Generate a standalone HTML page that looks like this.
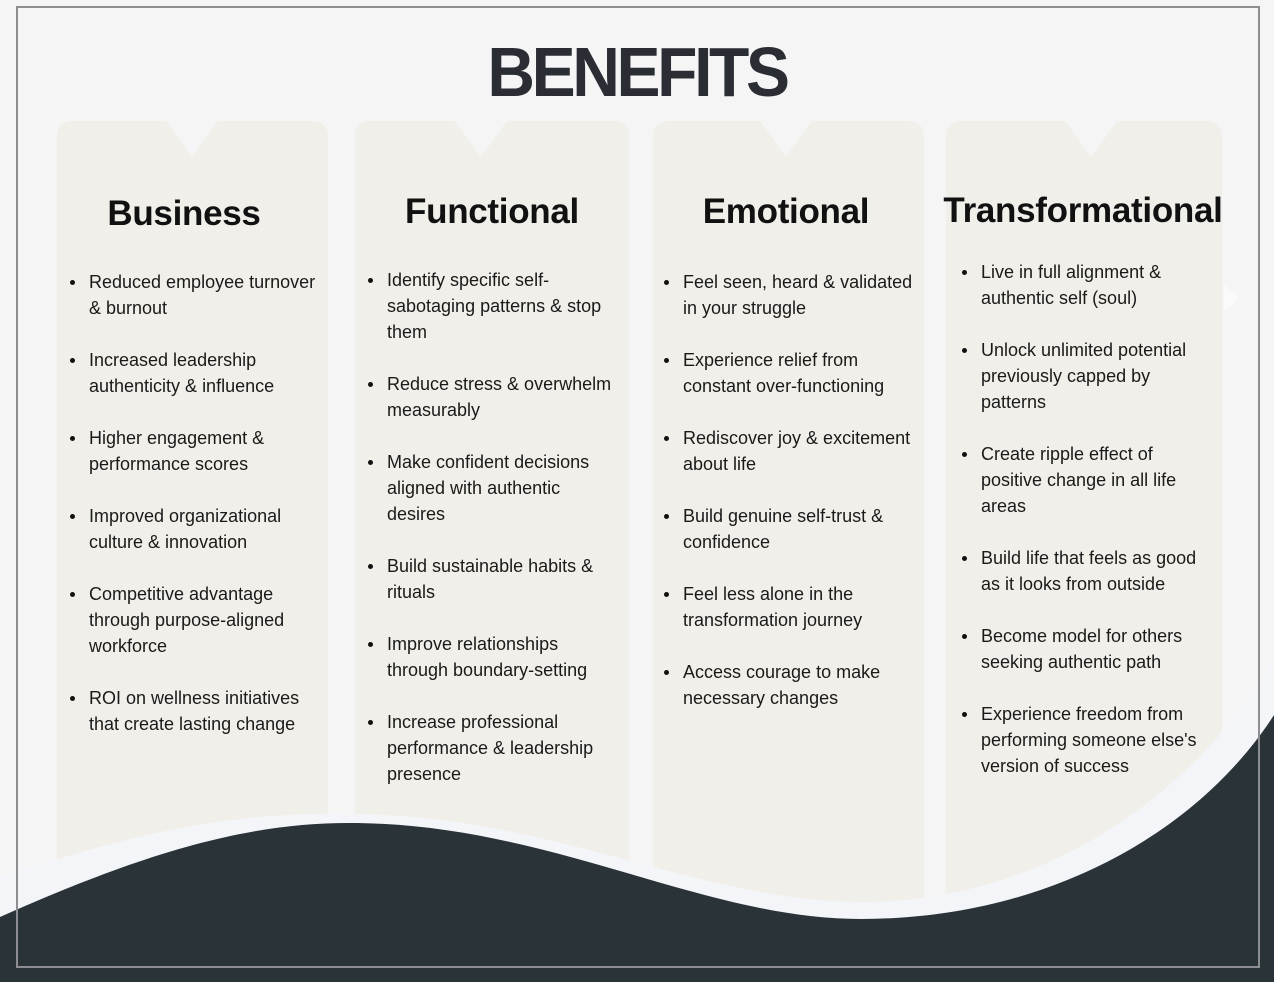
<!DOCTYPE html>
<html><head><meta charset="utf-8"><style>
*{margin:0;padding:0;box-sizing:border-box}
body{width:1274px;height:982px;overflow:hidden;background:#f5f5f6;font-family:"Liberation Sans",sans-serif;position:relative}
.card{position:absolute;top:121px;height:860px;background:#f1efe9;border-radius:14px}
.notch{position:absolute;top:121px;width:0;height:0;border-left:26px solid transparent;border-right:26px solid transparent;border-top:36px solid #f5f5f6}
h2{position:absolute;font-size:35px;font-weight:bold;color:#111;text-align:center;line-height:40px;letter-spacing:-0.3px}
h1{position:absolute;top:36px;left:0;width:1274px;text-align:center;font-size:66px;font-weight:bold;color:#2a2d34;letter-spacing:-3.4px;line-height:72px;transform:scaleY(1.05)}
ul{position:absolute;list-style:none;font-size:18px;line-height:26px;color:#1a1a1a}
li{position:relative;margin-bottom:26px}
li:before{content:"";position:absolute;left:-19px;top:11px;width:5px;height:5px;border-radius:50%;background:#111}
svg{position:absolute;left:0;top:0}
</style></head><body>
<div class="card" style="left:57px;width:271px"></div>
<div class="card" style="left:355px;width:274px"></div>
<div class="card" style="left:653px;width:271px"></div>
<div class="card" style="left:946px;width:276px"></div>
<div class="notch" style="left:166px"></div>
<div class="notch" style="left:455px"></div>
<div class="notch" style="left:760px"></div>
<div class="notch" style="left:1065px"></div>
<h1>BENEFITS</h1>
<h2 style="left:57px;width:254px;top:194px">Business</h2>
<h2 style="left:355px;width:274px;top:192px">Functional</h2>
<h2 style="left:653px;width:266px;top:192px">Emotional</h2>
<h2 style="left:940px;width:286px;top:191px">Transformational</h2>
<svg width="1274" height="982">
<polygon points="1224,284 1240,298 1224,312" fill="#fafafa"/>
<path d="M0,878 C150,826 250,812 349,814 C550,814 700,902 861,902 C1040,902 1190,800 1274,660 L1274,982 L0,982Z" fill="#f4f5f8"/>
<path d="M0,917 C150,850 250,823 349,823 C550,823 700,919 861,919 C1050,919 1200,830 1274,715 L1274,982 L0,982Z" fill="#293338"/>
<rect x="17" y="7" width="1242" height="960" fill="none" stroke="#8d8d92" stroke-width="2"/>
</svg>
<ul style="left:89px;top:269px;width:238px">
<li>Reduced employee turnover &amp; burnout</li>
<li>Increased leadership authenticity &amp; influence</li>
<li>Higher engagement &amp; performance scores</li>
<li>Improved organizational culture &amp; innovation</li>
<li>Competitive advantage through purpose-aligned workforce</li>
<li>ROI on wellness initiatives that create lasting change</li>
</ul>
<ul style="left:387px;top:267px;width:232px">
<li>Identify specific self-sabotaging patterns &amp; stop them</li>
<li>Reduce stress &amp; overwhelm measurably</li>
<li>Make confident decisions aligned with authentic desires</li>
<li>Build sustainable habits &amp; rituals</li>
<li>Improve relationships through boundary-setting</li>
<li>Increase professional performance &amp; leadership presence</li>
</ul>
<ul style="left:683px;top:269px;width:245px">
<li>Feel seen, heard &amp; validated in your struggle</li>
<li>Experience relief from constant over-functioning</li>
<li>Rediscover joy &amp; excitement about life</li>
<li>Build genuine self-trust &amp; confidence</li>
<li>Feel less alone in the transformation journey</li>
<li>Access courage to make necessary changes</li>
</ul>
<ul style="left:981px;top:259px;width:228px">
<li>Live in full alignment &amp; authentic self (soul)</li>
<li>Unlock unlimited potential previously capped by patterns</li>
<li>Create ripple effect of positive change in all life areas</li>
<li>Build life that feels as good as it looks from outside</li>
<li>Become model for others seeking authentic path</li>
<li>Experience freedom from performing someone else's version of success</li>
</ul>
</body></html>
